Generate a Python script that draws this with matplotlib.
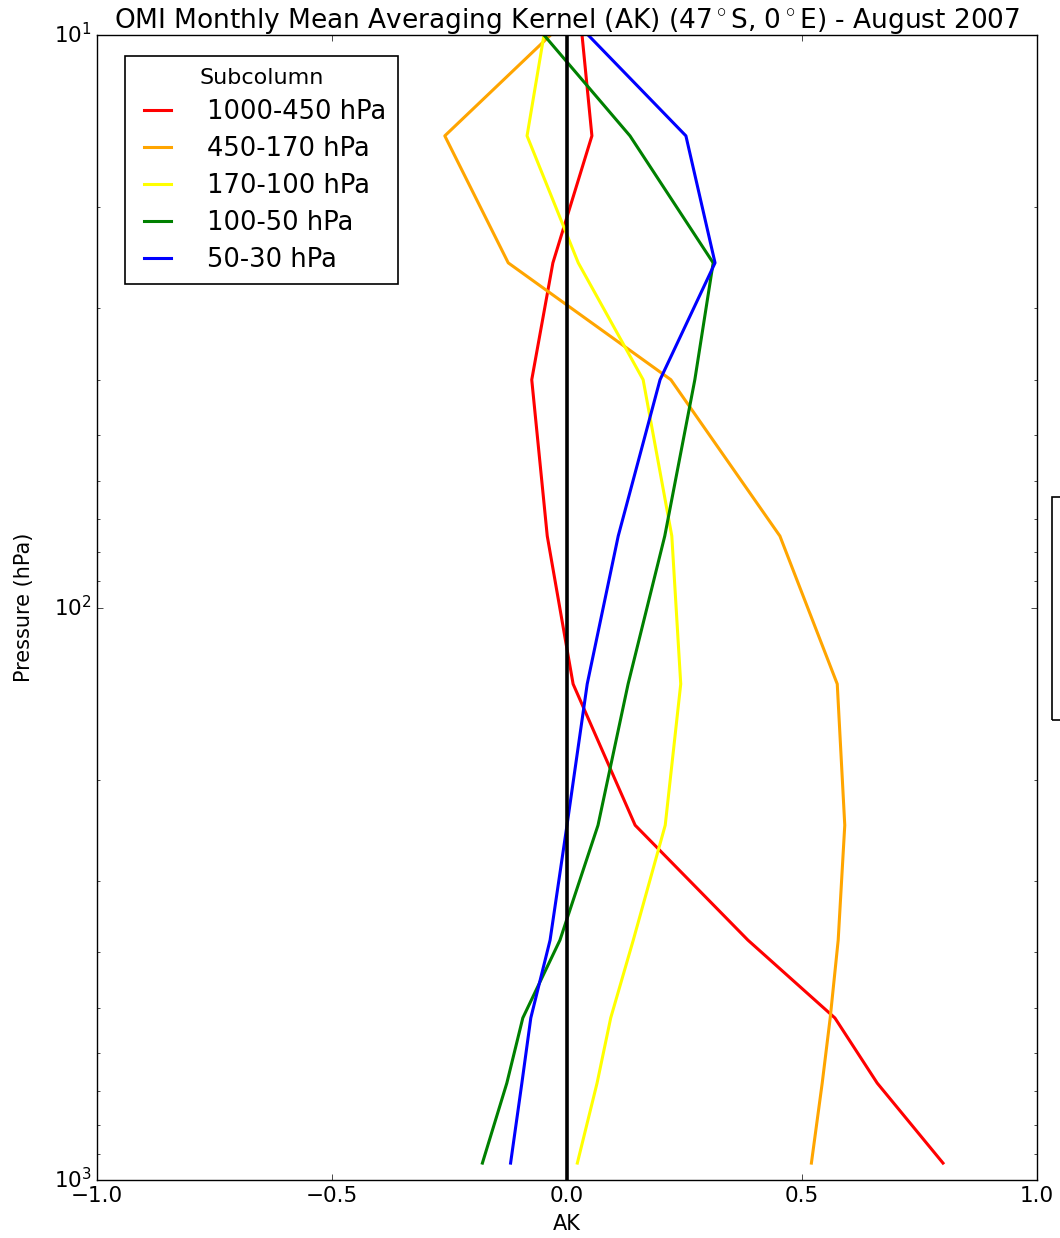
import numpy as np
import matplotlib
matplotlib.use("Agg")
import matplotlib.pyplot as plt
from matplotlib.patches import Rectangle

plt.style.use("classic")

# pressure levels (hPa) of the kernel rows
pressure = [10, 15, 25, 40, 75, 136, 240, 381, 521, 677, 934]

ak_1000_450 = [0.032, 0.053, -0.030, -0.075, -0.042, 0.013, 0.145, 0.385, 0.570, 0.660, 0.800]
ak_450_170 = [-0.035, -0.260, -0.125, 0.221, 0.453, 0.575, 0.591, 0.577, 0.560, 0.543, 0.520]
ak_170_100 = [-0.049, -0.085, 0.024, 0.162, 0.223, 0.242, 0.209, 0.141, 0.093, 0.064, 0.022]
ak_100_50 = [-0.049, 0.134, 0.311, 0.272, 0.208, 0.130, 0.066, -0.015, -0.094, -0.128, -0.180]
ak_50_30 = [0.045, 0.253, 0.315, 0.198, 0.109, 0.043, 0.000, -0.036, -0.077, -0.096, -0.120]

labels = ["1000-450 hPa", "450-170 hPa", "170-100 hPa", "100-50 hPa", "50-30 hPa"]
colors = ["red", "orange", "yellow", "green", "blue"]
series = [ak_1000_450, ak_450_170, ak_170_100, ak_100_50, ak_50_30]

fig = plt.figure(figsize=(10.6, 12.38), dpi=100, facecolor="white")
ax = fig.add_axes([0.0915, 0.0468, 0.8868, 0.9249])

for ak, lab, c in zip(series, labels, colors):
    ax.plot(ak, pressure, color=c, lw=2.2, label=lab)

ax.axvline(0, color="black", lw=2.6)

ax.set_yscale("log")
ax.set_ylim(1000, 10)
ax.set_xlim(-1, 1)
ax.set_xticks([-1.0, -0.5, 0.0, 0.5, 1.0])
ax.tick_params(labelsize=15.5)
ax.set_xlabel("AK", fontsize=15, labelpad=6)
ax.set_ylabel("Pressure (hPa)", fontsize=15, labelpad=14)
ax.set_title(r"OMI Monthly Mean Averaging Kernel (AK) (47$^\circ$S, 0$^\circ$E) - August 2007",
             fontsize=19)

leg = ax.legend(loc="upper left", bbox_to_anchor=(0.0298, 0.9817), borderaxespad=0,
                fontsize=18.5, title="Subcolumn", handlelength=1.63, handletextpad=1.1,
                labelspacing=0.43, borderpad=0.45)
leg.get_title().set_fontsize(16)
leg.get_frame().set_linewidth(1.2)

# clipped second legend box at the right edge
fig.patches.append(Rectangle((1052 / 1060, 1 - 720 / 1238), 0.05, 223 / 1238,
                             transform=fig.transFigure, fill=False, edgecolor="black",
                             lw=1.2, clip_on=False))

fig.savefig("out.png", dpi=100, facecolor="white")
